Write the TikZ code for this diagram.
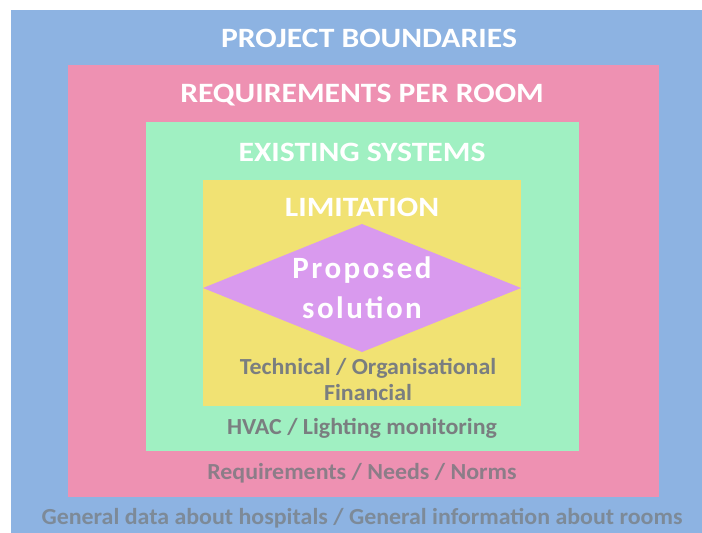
\documentclass[tikz,border=0pt]{standalone}
\usepackage{fontspec}
\setmainfont{Carlito}
\newfontfamily\widefont[FakeStretch=1.13]{Carlito}
\newfontfamily\notefont[FakeStretch=1.04]{Carlito}
\newfontfamily\spacedfont[LetterSpace=8]{Carlito}
\usetikzlibrary{shapes.geometric}
\definecolor{cblue}{HTML}{8DB3E2}
\definecolor{cpink}{HTML}{EE91B2}
\definecolor{cgreen}{HTML}{A0F0C2}
\definecolor{cyellow}{HTML}{F1E273}
\definecolor{cpurple}{HTML}{D99AEE}
\definecolor{ctext}{HTML}{7A7E80}
\definecolor{ctextpink}{HTML}{8C7D88}
\definecolor{ctextblue}{HTML}{7D8A98}
\begin{document}
\begin{tikzpicture}[x=1pt,y=-1pt,
  layer/.style={inner sep=0pt, outer sep=0pt, draw=none},
  title/.style={text=white, font=\widefont\bfseries\fontsize{28}{30}\selectfont, inner sep=0pt},
  note/.style={font=\notefont\bfseries\fontsize{23}{26}\selectfont, inner sep=0pt, align=center},
]
\useasboundingbox (0,0) rectangle (702,533);
% nested boxes
\fill[cblue] (11,10) rectangle (702,533);
\fill[cpink] (68,65) rectangle (659,497);
\fill[cgreen] (146,122) rectangle (579,451);
\fill[cyellow] (203,180) rectangle (521,406);
% proposal diamond
\node[layer, diamond, fill=cpurple, minimum width=318pt, minimum height=128pt, aspect=2.5] (sol) at (362,288) {};
% titles
\node[title] (tblue) at (369,38) {PROJECT BOUNDARIES};
\node[title] (tpink) at (362,95) {REQUIREMENTS PER ROOM};
\node[title] (tgreen) at (362,152) {EXISTING SYSTEMS};
\node[title] (tyellow) at (362,207) {LIMITATION};
\node[text=white, font=\spacedfont\bfseries\fontsize{31}{40}\selectfont, align=center, inner sep=0pt] (tsol) at (sol.center) {Proposed\\solution};
% bottom notes
\node[note, text=ctext] (nyellow) at (368,379) {Technical / Organisational\\Financial};
\node[note, text=ctext] (ngreen) at (362,428) {HVAC / Lighting monitoring};
\node[note, text=ctextpink] (npink) at (362,473) {Requirements / Needs / Norms};
\node[note, text=ctextblue] (nblue) at (362,518) {General data about hospitals / General information about rooms};
\end{tikzpicture}
\end{document}
